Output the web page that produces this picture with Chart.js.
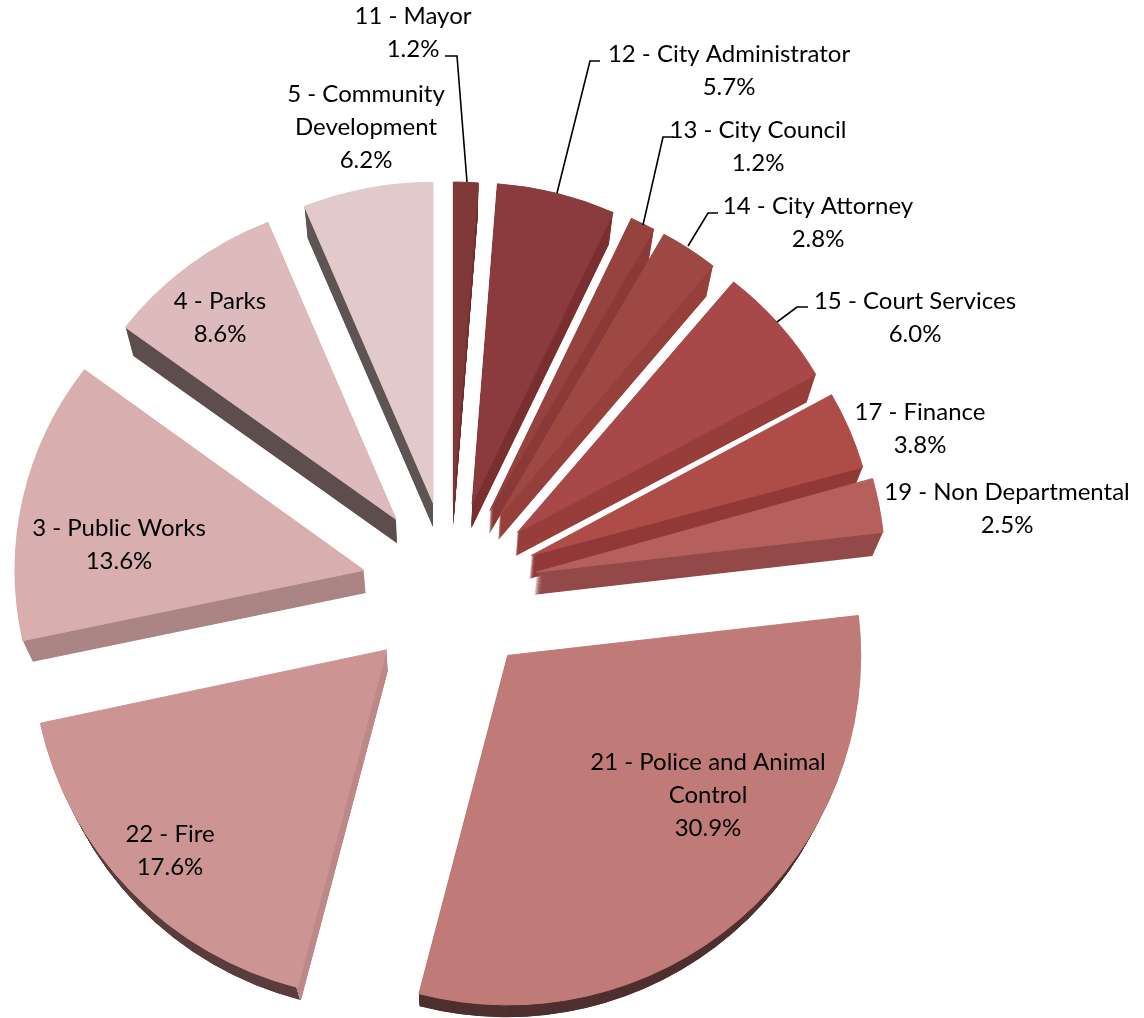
<!DOCTYPE html>
<html>
<head>
<meta charset="utf-8">
<style>html,body{margin:0;padding:0;background:#fff}canvas{display:block}</style>
<script src="https://cdn.jsdelivr.net/npm/chart.js@4/dist/chart.umd.js"></script>
</head>
<body>
<canvas id="c" width="1144" height="1018"></canvas>
<script>
// Data
const categories = ['11 - Mayor','12 - City Administrator','13 - City Council','14 - City Attorney','15 - Court Services','17 - Finance','19 - Non Departmental','21 - Police and Animal Control','22 - Fire','3 - Public Works','4 - Parks','5 - Community Development'];
const shares = [1.2,5.7,1.2,2.8,6.0,3.8,2.5,30.9,17.6,13.6,8.6,6.2];
const labelTexts = ['1.2%','5.7%','1.2%','2.8%','6.0%','3.8%','2.5%','30.9%','17.6%','13.6%','8.6%','6.2%'];

// Styles
const faceColors = ['#803737','#8b3b3d','#96423f','#9e4844','#a84848','#ae4d48','#b5605c','#c07b78','#cc9593','#d8aeae','#ddbabc','#e3caca'];
const wallColors = ['#753030','#7a3031','#8a3a38','#96403c','#983f3c','#923a38','#944a4a','#503030',['#5a3c3c','#bc8888'],'#ab8585','#5e4e4e','#5f5555'];
const sliceRadius = [334,336,337,338,342,344,349,353,354,349,338,339];
const sliceSquash = [.955,.955,.955,.955,.945,.957,1,.99,.985,.96,.95,.945];
const plumbWalls = [0,11];
const wallSplitX = 296;
const explode = 88;
const vanish = {x:444, y:1520}, wallScale = 0.976, wallSteps = 40;

// Label layout: lines, centre x, first-line centre y
const labelLayout = [
 {lines:['11 - Mayor'], x:413, y:16},
 {lines:['12 - City Administrator'], x:729, y:54},
 {lines:['13 - City Council'], x:758, y:130},
 {lines:['14 - City Attorney'], x:818, y:206},
 {lines:['15 - Court Services'], x:915, y:301},
 {lines:['17 - Finance'], x:920, y:412},
 {lines:['19 - Non Departmental'], x:1007, y:492},
 {lines:['21 - Police and Animal','Control'], x:708, y:762},
 {lines:['22 - Fire'], x:170, y:834},
 {lines:['3 - Public Works'], x:119, y:528},
 {lines:['4 - Parks'], x:220, y:301},
 {lines:['5 - Community','Development'], x:366, y:94}
];
const leaders = [
 [[445,56],[457,56],[467,182]],
 [[600,61],[590,61],[557,193]],
 [[674,137],[663,137],[643,225]],
 [[718,213],[708,213],[688,246]],
 [[808,307],[797,307],[777,322]]
];
const lineGap = 33;

const perspectivePie = {
  id:'perspectivePie',
  afterDatasetUpdate(chart){
    chart.getDatasetMeta(0).data.forEach((arc,i)=>{
      const mid = (arc.startAngle+arc.endAngle)/2;
      arc.x += Math.cos(mid)*explode;
      arc.y += Math.sin(mid)*explode;
      arc.outerRadius = sliceRadius[i];
      const base = arc.draw;
      arc.draw = function(ctx){
        ctx.save();
        ctx.translate(this.x,this.y);
        ctx.scale(1,sliceSquash[i]);
        ctx.translate(-this.x,-this.y);
        base.call(this,ctx);
        ctx.restore();
      };
    });
  },
  beforeDatasetDraw(chart){
    const ctx = chart.ctx;
    chart.getDatasetMeta(0).data.forEach((arc,i)=>{
      let fill = wallColors[i];
      if(Array.isArray(fill)){
        const g = ctx.createLinearGradient(0,0,chart.width,0);
        const p = wallSplitX/chart.width;
        g.addColorStop(0,fill[0]); g.addColorStop(p,fill[0]);
        g.addColorStop(p,fill[1]); g.addColorStop(1,fill[1]);
        fill = g;
      }
      const vx = plumbWalls.includes(i) ? arc.x : vanish.x;
      const saved = arc.options;
      arc.options = Object.assign({},saved,{backgroundColor:fill,borderWidth:0});
      for(let k=wallSteps;k>=1;k--){
        const s = 1-(1-wallScale)*k/wallSteps;
        ctx.save();
        ctx.translate(vx,vanish.y);
        ctx.scale(s,s);
        ctx.translate(-vx,-vanish.y);
        arc.draw(ctx);
        ctx.restore();
      }
      arc.options = saved;
    });
  },
  afterDraw(chart){
    const ctx = chart.ctx;
    ctx.save();
    ctx.strokeStyle='#000'; ctx.lineWidth=1.6;
    leaders.forEach(pts=>{
      ctx.beginPath();
      pts.forEach((p,i)=> i?ctx.lineTo(p[0],p[1]):ctx.moveTo(p[0],p[1]));
      ctx.stroke();
    });
    ctx.fillStyle='#000';
    ctx.font='24px Lato';
    ctx.textAlign='center'; ctx.textBaseline='middle';
    labelLayout.forEach((l,i)=>{
      [...l.lines,labelTexts[i]].forEach((t,j)=>ctx.fillText(t,l.x,l.y+j*lineGap));
    });
    ctx.restore();
  }
};

new Chart(document.getElementById('c'),{
  type:'pie',
  data:{labels:categories,datasets:[{data:shares,backgroundColor:faceColors,borderColor:faceColors,borderWidth:1}]},
  options:{
    responsive:false,animation:false,
    layout:{padding:{right:244,top:160}},
    radius:340,
    plugins:{legend:{display:false},tooltip:{enabled:false}},
    events:[]
  },
  plugins:[perspectivePie]
});
</script>
</body>
</html>
